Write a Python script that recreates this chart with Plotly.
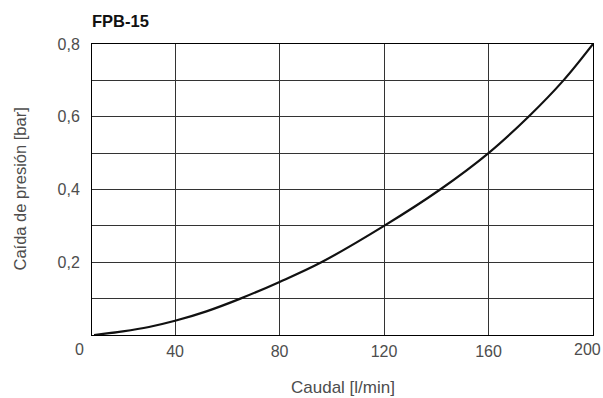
import plotly.graph_objects as go

# Data
flow_lpm = [9, 20, 30, 40, 52, 65, 80, 96, 120, 141.5, 160, 175.3, 188.7, 200]
pressure_drop_bar = [0.0, 0.01, 0.022, 0.039, 0.065, 0.1, 0.146, 0.2, 0.3, 0.4, 0.5, 0.6, 0.7, 0.8]

x_tickvals = [40, 80, 120, 160, 200]
x_ticktext = ["40", "80", "120", "160", "200"]
y_tickvals = [0.1, 0.2, 0.3, 0.4, 0.5, 0.6, 0.7, 0.8]
y_ticktext = ["", "0,2", "", "0,4", "", "0,6", "", "0,8"]
origin_label = "0"

title_text = "FPB-15"
x_title = "Caudal [l/min]"
y_title = "Caída de presión [bar]"

FONT = "Liberation Sans, Arial, sans-serif"
TXT = "#4d4d4d"
GRID = "#333333"

# last x label (at the right edge) is drawn as a right-aligned annotation so it stays inside the page
axis_ticktext = x_ticktext[:-1] + [""]

fig = go.Figure()
fig.add_trace(go.Scatter(
    x=flow_lpm, y=pressure_drop_bar, mode="lines",
    line=dict(color="#111111", width=2.2, shape="spline", smoothing=1.0),
    hoverinfo="skip", showlegend=False,
))

fig.update_layout(
    width=603, height=398,
    margin=dict(l=92, r=10, t=44, b=63, autoexpand=False),
    paper_bgcolor="white", plot_bgcolor="white",
    font=dict(family=FONT, size=16, color=TXT),
    showlegend=False,
    xaxis=dict(
        range=[8.2, 200], tickvals=x_tickvals, ticktext=axis_ticktext,
        showgrid=True, gridcolor=GRID, gridwidth=1,
        showline=True, linecolor="#000000", linewidth=1, mirror=True,
        zeroline=False, ticks="", ticklabelstandoff=2, automargin=False,
        tickfont=dict(family=FONT, size=16, color=TXT),
    ),
    yaxis=dict(
        range=[0, 0.8], tickvals=y_tickvals, ticktext=y_ticktext,
        showgrid=True, gridcolor=GRID, gridwidth=1,
        showline=True, linecolor="#000000", linewidth=1, mirror=True,
        zeroline=False, ticks="", ticklabelstandoff=8, automargin=False,
        ticklabeloverflow="allow",
        tickfont=dict(family=FONT, size=16, color=TXT),
    ),
    annotations=[
        dict(text="<b>" + title_text + "</b>", xref="paper", yref="paper",
             x=0, y=1, xanchor="left", yanchor="middle", yshift=23,
             xshift=-2,
             showarrow=False, font=dict(family=FONT, size=16.5, color="#111111")),
        dict(text=origin_label, xref="paper", yref="paper", x=0, y=0,
             xanchor="center", yanchor="middle", xshift=-13, yshift=-14,
             showarrow=False, font=dict(family=FONT, size=16, color=TXT)),
        dict(text=x_ticktext[-1], xref="paper", yref="paper", x=1, y=0,
             xanchor="right", yanchor="middle", xshift=10, yshift=-14,
             showarrow=False, font=dict(family=FONT, size=16, color=TXT)),
        dict(text=x_title, xref="paper", yref="paper", x=0.5, y=0,
             xanchor="center", yanchor="middle", yshift=-52,
             showarrow=False, font=dict(family=FONT, size=17, color=TXT)),
        dict(text=y_title, xref="paper", yref="paper", x=0, y=0.5,
             xanchor="center", yanchor="middle", xshift=-73, textangle=-90,
             showarrow=False, font=dict(family=FONT, size=16.5, color=TXT)),
    ],
)

fig.write_html("out.html", config={"displayModeBar": False},
               post_script="document.body.style.margin='0';")
